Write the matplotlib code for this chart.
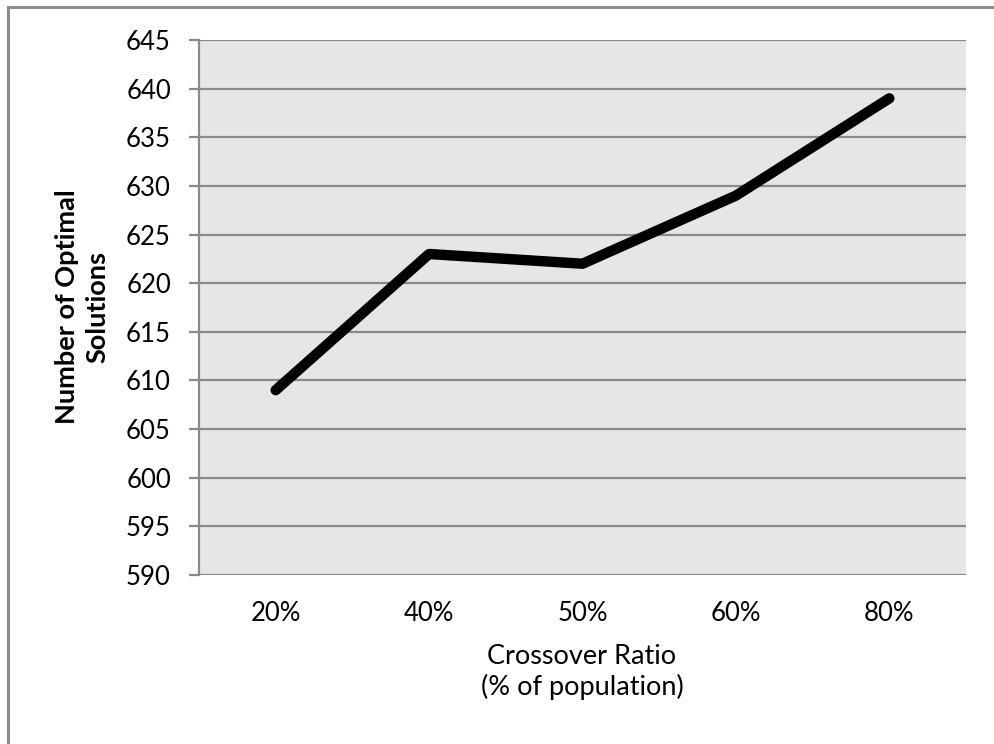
import matplotlib
matplotlib.use("Agg")
import matplotlib.pyplot as plt
from matplotlib.patches import Rectangle

categories = ["20%", "40%", "50%", "60%", "80%"]
optimal_solutions = [609, 623, 622, 629, 639]
y_ticks = list(range(590, 646, 5))

W, H = 994, 744
plt.rcParams["font.family"] = ["Lato", "DejaVu Sans"]

fig = plt.figure(figsize=(W / 100, H / 100), dpi=100)
fig.patch.set_facecolor("white")

# chart frame
fig.patches.append(Rectangle((8 / W, 0 - 0.05), 1.1, 1 - 7 / H + 0.05,
                             transform=fig.transFigure, fill=False,
                             edgecolor="#8c8c8c", linewidth=2.2))

ax = fig.add_axes([199 / W, 1 - 575 / H, (966 - 199) / W, (575 - 40) / H])
ax.set_facecolor("#e6e6e6")
grid_c = "#8a8a8a"

x = list(range(len(categories)))
ax.plot(x, optimal_solutions, color="black", linewidth=7.5,
        solid_capstyle="round", solid_joinstyle="round", zorder=3)

ax.set_xlim(-0.5, len(categories) - 0.5)
ax.set_ylim(590, 645)
ax.set_yticks(y_ticks)
ax.set_xticks(x)
ax.set_xticklabels(categories)

for s in ["top", "right", "bottom"]:
    ax.spines[s].set_visible(False)
ax.spines["left"].set_color(grid_c)
ax.spines["left"].set_linewidth(1.6)

ax.yaxis.grid(True, color=grid_c, linewidth=1.6)
ax.set_axisbelow(True)
ax.tick_params(axis="y", length=7.2, width=1.6, color=grid_c,
               labelsize=18.5, pad=13)
ax.tick_params(axis="x", length=0, labelsize=18.5, pad=19)

fig.text(82 / W, 1 - 307 / H, "Number of Optimal\nSolutions", rotation=90,
         ha="center", va="center", fontsize=19.5, fontweight="bold",
         linespacing=1.3)
fig.text(582 / W, 1 - 672 / H, "Crossover Ratio\n(% of population)",
         ha="center", va="center", fontsize=19.5, linespacing=1.2)

fig.savefig("out.png", dpi=100)
